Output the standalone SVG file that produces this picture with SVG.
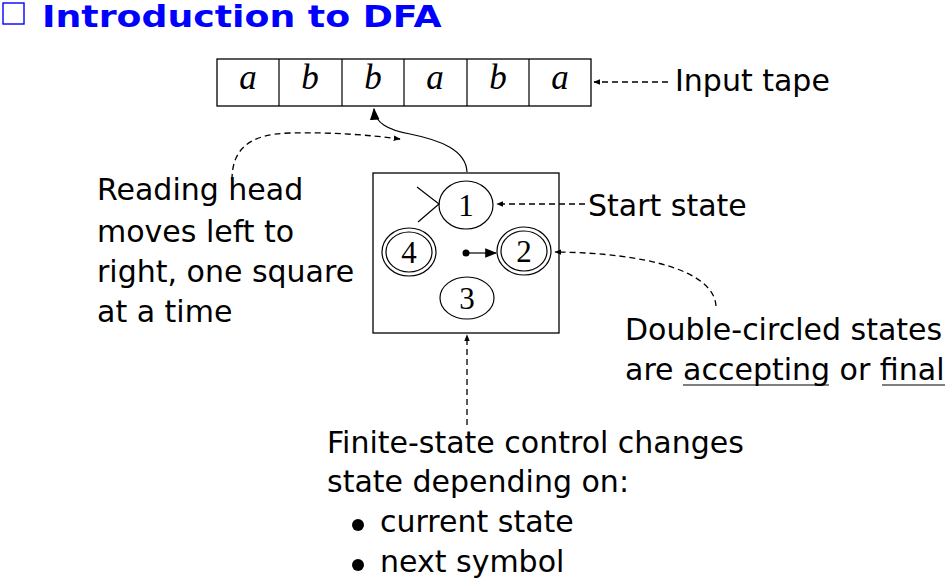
<svg xmlns="http://www.w3.org/2000/svg" width="950" height="580" viewBox="0 0 950 580">
<style>
.t{font-family:"DejaVu Sans","Liberation Sans",sans-serif;font-size:30px;fill:#000}
.sym{font-family:"Liberation Serif",serif;font-style:italic;font-size:35px;fill:#000;text-anchor:middle}
.num{font-family:"Liberation Serif",serif;font-size:31px;fill:#000;text-anchor:middle}
.ln{fill:none;stroke:#000;stroke-width:1.2}
.dash{fill:none;stroke:#000;stroke-width:1.3;stroke-dasharray:6 4}
.st{fill:#fff;stroke:#000;stroke-width:1.2}
</style>
<defs>
<marker id="sm" viewBox="0 0 10 10" refX="9" refY="5" markerWidth="7" markerHeight="7" markerUnits="userSpaceOnUse" orient="auto"><path d="M0,1 L10,5 L0,9 Z" fill="#000"/></marker>
<marker id="lg" viewBox="0 0 10 10" refX="9" refY="5" markerWidth="12" markerHeight="12" markerUnits="userSpaceOnUse" orient="auto"><path d="M0,1 L10,5 L0,9 Z" fill="#000"/></marker>
</defs>
<g id="title">
<rect x="3" y="3" width="21" height="21" fill="none" stroke="#0000ff" stroke-width="1.4"/>
<text transform="translate(42,27) scale(1.23,1)" x="0" y="0" font-family="DejaVu Sans,Liberation Sans,sans-serif" font-weight="bold" font-size="29.5" fill="#0000ff">Introduction to DFA</text>
</g>
<g id="tape">
<rect x="217" y="59" width="374" height="47" fill="none" stroke="#000" stroke-width="1.3"/>
<path class="ln" d="M279 59V106M342 59V106M404 59V106M467 59V106M529 59V106"/>
<text class="sym" x="248" y="89">a</text>
<text class="sym" x="310" y="89">b</text>
<text class="sym" x="373" y="89">b</text>
<text class="sym" x="435" y="89">a</text>
<text class="sym" x="498" y="89">b</text>
<text class="sym" x="560" y="89">a</text>
</g>
<g id="control">
<rect x="373" y="173" width="186" height="160" fill="none" stroke="#000" stroke-width="1.3"/>
</g>
<g id="state1">
<ellipse class="st" cx="466" cy="205" rx="27" ry="24"/>
<text class="num" x="466" y="216">1</text>
</g>
<g id="state4">
<ellipse class="st" cx="409" cy="252" rx="27" ry="24"/>
<ellipse class="st" cx="409" cy="252" rx="23" ry="20"/>
<text class="num" x="409" y="263">4</text>
</g>
<g id="state2">
<ellipse class="st" cx="524" cy="251" rx="27" ry="24"/>
<ellipse class="st" cx="524" cy="251" rx="23" ry="20"/>
<text class="num" x="524" y="262">2</text>
</g>
<g id="state3">
<ellipse class="st" cx="467" cy="298" rx="27" ry="21"/>
<text class="num" x="467" y="309">3</text>
</g>
<g id="connectors">
<path class="ln" d="M417 187L439 204L418 222"/>
<circle cx="466" cy="253" r="3.5" fill="#000"/>
<path class="ln" d="M466 253H496" marker-end="url(#lg)"/>
<path class="ln" d="M467 172C466 150 440 140 410 134C388 130 375 123 374 109" marker-end="url(#lg)"/>
<path class="dash" d="M232 180C232 150 248 134 290 133C330 132 370 135 400 139" marker-end="url(#sm)"/>
<path class="dash" d="M668 82H594" marker-end="url(#sm)"/>
<path class="dash" d="M585 204H497" marker-end="url(#sm)"/>
<path class="dash" d="M716 306C714 272 650 253 555 252" marker-end="url(#sm)"/>
<path class="dash" d="M467 425V335" marker-end="url(#sm)"/>
</g>
<g id="labels">
<text class="t" x="675" y="91">Input tape</text>
<text class="t" x="588" y="216">Start state</text>
<text class="t" x="97" y="200">Reading head</text>
<text class="t" x="97" y="242">moves left to</text>
<text class="t" x="97" y="282">right, one square</text>
<text class="t" x="97" y="322">at a time</text>
<text class="t" x="625" y="340">Double-circled states</text>
<text class="t" x="625" y="380">are accepting or final</text>
<path class="ln" d="M683 385H829M882 385H945" stroke-width="1.5"/>
<text class="t" x="327" y="453">Finite-state control changes</text>
<text class="t" x="327" y="492">state depending on:</text>
<circle cx="358" cy="525" r="6" fill="#000"/>
<text class="t" x="380" y="532">current state</text>
<circle cx="358" cy="565" r="6" fill="#000"/>
<text class="t" x="380" y="572">next symbol</text>
</g>
</svg>
